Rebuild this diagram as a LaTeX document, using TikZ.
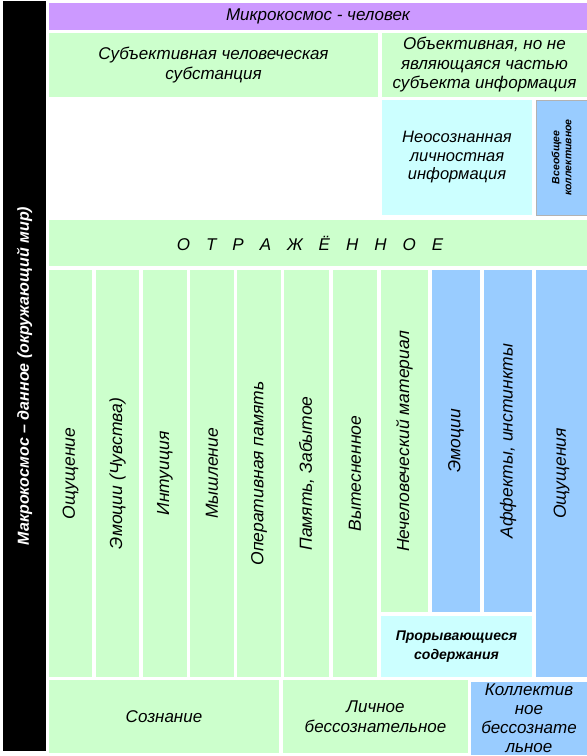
\documentclass[tikz,border=0pt]{standalone}
\usepackage{fontspec}
\setmainfont{Liberation Sans}
\definecolor{cellgreen}{HTML}{CCFFCC}
\definecolor{cellviolet}{HTML}{CC99FF}
\definecolor{cellcyan}{HTML}{CCFFFF}
\definecolor{cellblue}{HTML}{99CCFF}
\begin{document}
\begin{tikzpicture}[x=1pt,y=-1pt,
    cell/.style={inner sep=0pt,align=center,font=\itshape\fontsize{17}{19.5}\selectfont},
    green cell/.style={cell,fill=cellgreen},
    blue cell/.style={cell,fill=cellblue},
    cyan cell/.style={cell,fill=cellcyan},
    long col/.style={rotate=90,minimum width=407pt,font=\itshape\fontsize{17.5}{20}\selectfont},
    short col/.style={rotate=90,minimum width=342pt,font=\itshape\fontsize{17.5}{20}\selectfont}]

    \useasboundingbox[fill=white] (0,0) rectangle (587,756);

    % Frame and header
    \node[cell,fill=black,text=white,rotate=90,minimum width=750pt,minimum height=43pt,
          font=\bfseries\itshape\fontsize{16}{18}\selectfont]
        (macro) at (24.5,376) {Макрокосмос – данное (окружающий мир)};
    \node[cell,fill=cellviolet,minimum width=538pt,minimum height=27pt,
          font=\itshape\fontsize{17}{19}\selectfont]
        (micro) at (318,16.5) {Микрокосмос - человек};

    % Upper part
    \node[green cell,minimum width=329pt,minimum height=64pt] (subj) at (213.5,65)
        {Субъективная человеческая\\субстанция};
    \node[green cell,minimum width=205pt,minimum height=64pt] (obj) at (484.5,65)
        {Объективная, но не\\являющаяся частью\\субъекта информация};
    \node[cyan cell,minimum width=150pt,minimum height=115pt,font=\itshape\fontsize{16.5}{18.5}\selectfont]
        (unaware) at (457,157.5) {Неосознанная\\личностная\\информация};
    \node[blue cell,draw=gray!60,rotate=90,minimum width=115pt,minimum height=51pt,
          font=\bfseries\itshape\fontsize{10.5}{12}\selectfont]
        (universal) at (561.5,157.5) {Всеобщее\\коллективное};
    \node[green cell,minimum width=538pt,minimum height=46pt] (reflected) at (318,243)
        {О\hspace{16pt}Т\hspace{16pt}Р\hspace{16pt}А\hspace{16pt}Ж\hspace{16pt}Ё\hspace{16pt}Н\hspace{16pt}Н\hspace{16pt}О\hspace{16pt}Е\hspace*{16pt}};

    % Columns
    \node[green cell,long col,minimum height=43pt] (sense) at (70.5,473.5) {Ощущение};
    \node[green cell,long col,minimum height=43pt] (emotion) at (117.5,473.5) {Эмоции (Чувства)};
    \node[green cell,long col,minimum height=44pt] (intuition) at (165,473.5) {Интуиция};
    \node[green cell,long col,minimum height=44pt] (thinking) at (212,473.5) {Мышление};
    \node[green cell,long col,minimum height=44pt] (workmem) at (259,473.5) {Оперативная память};
    \node[green cell,long col,minimum height=45pt] (memory) at (306.5,473.5) {Память, Забытое};
    \node[green cell,long col,minimum height=44pt] (repressed) at (355,473.5) {Вытесненное};
    \node[green cell,short col,minimum height=47pt] (nonhuman) at (404.5,441) {Нечеловеческий материал};
    \node[blue cell,short col,minimum height=48pt] (emotions) at (456,441) {Эмоции};
    \node[blue cell,short col,minimum height=48pt] (affects) at (508,441) {Аффекты, инстинкты};
    \node[blue cell,long col,minimum height=51pt] (senses) at (561.5,473.5) {Ощущения};
    \node[cyan cell,minimum width=151pt,minimum height=61pt,
          font=\bfseries\itshape\fontsize{14}{19}\selectfont]
        (breakthrough) at (456.5,646.5) {Прорывающиеся\\содержания};

    % Bottom row
    \node[green cell,minimum width=230pt,minimum height=73pt] (conscious) at (164,716.5) {Сознание};
    \node[green cell,minimum width=185pt,minimum height=73pt] (personal) at (375.5,716.5)
        {Личное\\бессознательное};
    \node[blue cell,minimum width=116pt,minimum height=73pt,font=\itshape\fontsize{17}{19}\selectfont]
        (collective) at (529,718) {Коллектив\\ное\\бессознате\\льное};

\end{tikzpicture}
\end{document}
